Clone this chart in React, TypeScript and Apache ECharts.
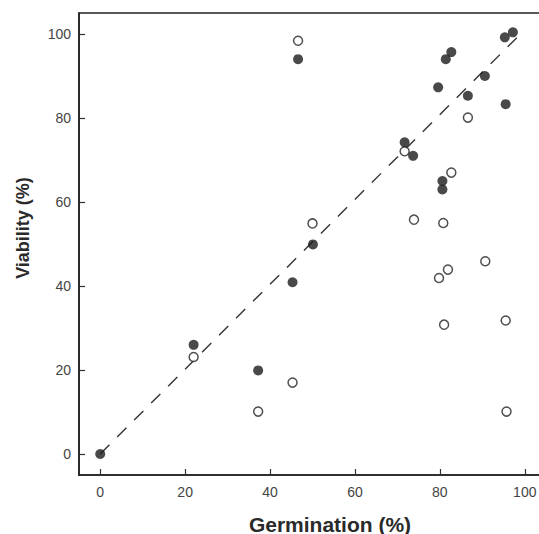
import React, { useEffect, useRef } from "react";
import * as echarts from "echarts";

const tickValues = [0, 20, 40, 60, 80, 100];

const filledX = [0, 22, 37.2, 45.3, 46.6, 50.1, 71.7, 73.7, 79.6, 80.6, 80.6, 81.4, 82.7, 86.6, 90.6, 95.3, 97.2, 95.5];
const filledY = [0, 26, 19.9, 40.9, 94, 49.9, 74.2, 71, 87.3, 65, 63, 94, 95.7, 85.3, 90, 99.2, 100.4, 83.3];

const openX = [22, 37.2, 45.3, 46.6, 50, 71.7, 73.9, 80.8, 79.8, 81.9, 82.7, 86.6, 90.7, 81, 95.5, 95.7];
const openY = [23.1, 10.1, 17, 98.4, 54.9, 72.1, 55.8, 55, 41.9, 43.9, 67, 80.1, 45.9, 30.8, 31.8, 10.1];

const lineX = [0, 99];
const lineY = [0, 100];

const xTitle = "Germination (%)";
const yTitle = "Viability (%)";

export default function App() {
  const ref = useRef<HTMLDivElement>(null);

  useEffect(() => {
    if (!ref.current) return;
    const chart = echarts.init(ref.current, null, { renderer: "svg" });
    const font = "'Liberation Sans', Arial, Helvetica, sans-serif";
    const axisCommon = {
      min: -5,
      max: 105,
      splitLine: { show: false },
      axisLine: { show: true, onZero: false, lineStyle: { color: "#222", width: 1.6 } },
      axisTick: {
        show: true,
        inside: true,
        length: 6,
        customValues: tickValues,
        lineStyle: { color: "#333", width: 1.2 },
      },
    };
    chart.setOption({
      animation: false,
      backgroundColor: "#fff",
      grid: {
        left: 79,
        top: 13,
        right: 14,
        bottom: 59,
        show: true,
        borderColor: "#222",
        borderWidth: 1.6,
        backgroundColor: "transparent",
      },
      xAxis: {
        type: "value",
        ...axisCommon,
        axisLabel: {
          customValues: tickValues,
          margin: 10,
          color: "#444",
          fontSize: 14,
          fontFamily: font,
        },
      },
      yAxis: {
        type: "value",
        ...axisCommon,
        axisLabel: {
          customValues: tickValues,
          margin: 8,
          color: "#444",
          fontSize: 14,
          fontFamily: font,
        },
      },
      graphic: [
        {
          type: "text",
          x: 330,
          y: 524,
          style: {
            text: xTitle,
            fill: "#2a2a2a",
            font: `bold 21px ${font}`,
            textAlign: "center",
            textVerticalAlign: "middle",
          },
        },
        {
          type: "text",
          x: 23,
          y: 228,
          rotation: Math.PI / 2,
          style: {
            text: yTitle,
            fill: "#2a2a2a",
            font: `bold 18px ${font}`,
            textAlign: "center",
            textVerticalAlign: "middle",
          },
        },
      ],
      series: [
        {
          type: "line",
          data: lineX.map((x, i) => [x, lineY[i]]),
          symbol: "none",
          lineStyle: { color: "#333", width: 1.4, type: [13, 11] },
          z: 1,
        },
        {
          type: "scatter",
          data: openX.map((x, i) => [x, openY[i]]),
          symbol: "circle",
          symbolSize: 9,
          itemStyle: { color: "#fff", borderColor: "#222", borderWidth: 1.5 },
          z: 2,
        },
        {
          type: "scatter",
          data: filledX.map((x, i) => [x, filledY[i]]),
          symbol: "circle",
          symbolSize: 10,
          itemStyle: { color: "#1c1c1c" },
          z: 3,
        },
      ],
    });
    return () => chart.dispose();
  }, []);

  return (
    <div
      style={{
        position: "absolute",
        left: 0,
        top: 0,
        width: 539,
        height: 534,
        overflow: "hidden",
        background: "#fff",
      }}
    >
      <div ref={ref} style={{ width: 560, height: 534 }} />
    </div>
  );
}
